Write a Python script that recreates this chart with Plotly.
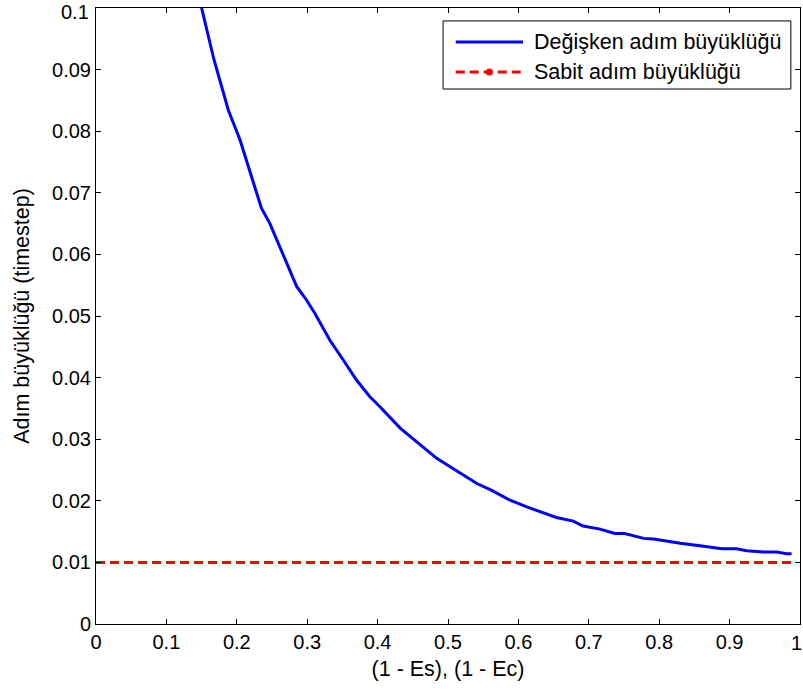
import plotly.graph_objects as go

# Variable step size vs. (1 - Es), (1 - Ec)
x_var = [0.150, 0.1676, 0.188, 0.2045, 0.235, 0.247, 0.285, 0.299, 0.311, 0.323, 0.332,
         0.351, 0.370, 0.389, 0.403, 0.432, 0.4555, 0.484, 0.498, 0.522, 0.541,
         0.560, 0.588, 0.612, 0.631, 0.654, 0.678, 0.692, 0.716, 0.737, 0.751,
         0.778, 0.792, 0.811, 0.830, 0.858, 0.872, 0.889, 0.910, 0.924, 0.948,
         0.967, 0.981, 0.988]
y_var = [0.1000, 0.0916, 0.0834, 0.0786, 0.0675, 0.0650, 0.0548, 0.0526, 0.0504, 0.0480, 0.0461,
         0.0429, 0.0396, 0.0369, 0.0353, 0.0318, 0.0296, 0.0269, 0.0259, 0.0242, 0.0228,
         0.0218, 0.0201, 0.0190, 0.0182, 0.0173, 0.0167, 0.0159, 0.0154, 0.0147, 0.0147,
         0.0139, 0.0138, 0.0134, 0.0131, 0.0127, 0.0125, 0.0122, 0.0122, 0.0119, 0.0117,
         0.0117, 0.0114, 0.0114]

# Fixed step size
x_fix = [0.0, 0.988]
y_fix = [0.01, 0.01]

x_ticks = [0, 0.1, 0.2, 0.3, 0.4, 0.5, 0.6, 0.7, 0.8, 0.9, 1]
x_tick_text = ["0", "0.1", "0.2", "0.3", "0.4", "0.5", "0.6", "0.7", "0.8", "0.9", "1"]
y_ticks = [0, 0.01, 0.02, 0.03, 0.04, 0.05, 0.06, 0.07, 0.08, 0.09, 0.1]
y_tick_text = ["0", "0.01", "0.02", "0.03", "0.04", "0.05", "0.06", "0.07", "0.08", "0.09", "0.1"]

series_names = ["Değişken adım büyüklüğü", "Sabit adım büyüklüğü"]

FONT = "Liberation Sans, Arial, sans-serif"
BLUE = "#0000ff"
RED = "#ff0000"
DASH = "9px,5px"
TICK_SIZE = 20

fig = go.Figure()
fig.add_trace(go.Scatter(
    x=x_var, y=y_var, mode="lines", name=series_names[0],
    line=dict(color=BLUE, width=3), showlegend=False,
))
fig.add_trace(go.Scatter(
    x=x_fix, y=y_fix, mode="lines", name=series_names[1],
    line=dict(color=RED, width=3, dash=DASH), showlegend=False,
))

axis_common = dict(
    showline=True, linecolor="black", linewidth=1, mirror="ticks",
    ticks="inside", ticklen=5, tickcolor="black", tickwidth=1,
    showgrid=False, zeroline=False,
    tickfont=dict(family=FONT, size=TICK_SIZE, color="black"),
)

# The last label of each axis sits at the figure edge; it is drawn separately,
# nudged inward so it stays fully visible.
fig.update_xaxes(
    range=[0, 1], tickvals=x_ticks, ticktext=x_tick_text[:-1] + [""],
    title=dict(text="(1 - Es), (1 - Ec)", font=dict(family=FONT, size=21.5, color="black"), standoff=8),
    **axis_common,
)
fig.update_yaxes(
    range=[0, 0.1], tickvals=y_ticks, ticktext=y_tick_text[:-1] + [""],
    title=dict(text="Adım büyüklüğü (timestep)", font=dict(family=FONT, size=21.5, color="black"), standoff=16),
    **axis_common,
)

edge_labels = [
    dict(xref="x", yref="paper", x=x_ticks[-1], y=0, text=x_tick_text[-1], showarrow=False,
         xanchor="center", yanchor="top", xshift=-4, yshift=-6,
         font=dict(family=FONT, size=TICK_SIZE, color="black")),
    dict(xref="paper", yref="y", x=0, y=y_ticks[-1], text=y_tick_text[-1], showarrow=False,
         xanchor="right", yanchor="middle", xshift=-5, yshift=-4,
         font=dict(family=FONT, size=TICK_SIZE, color="black")),
]

# Boxed legend in the upper right of the axes (long line samples)
lx0, lx1, ly0, ly1 = 0.493, 0.987, 0.8685, 0.979
sx0, sx1, tx = 0.511, 0.6065, 0.6193
rows = [0.9448, 0.8961]
shapes = [
    dict(type="rect", xref="x domain", yref="y domain", x0=lx0, x1=lx1, y0=ly0, y1=ly1,
         line=dict(color="black", width=1), fillcolor="white", layer="above"),
    dict(type="line", xref="x domain", yref="y domain", x0=sx0, x1=sx1, y0=rows[0], y1=rows[0],
         line=dict(color=BLUE, width=3), layer="above"),
    dict(type="line", xref="x domain", yref="y domain", x0=sx0, x1=sx1, y0=rows[1], y1=rows[1],
         line=dict(color=RED, width=3, dash=DASH), layer="above"),
    # point marker at the centre of the dashed sample
    dict(type="circle", xref="x domain", yref="y domain",
         xsizemode="pixel", ysizemode="pixel",
         xanchor=(sx0 + sx1) / 2, yanchor=rows[1], x0=-3.5, x1=3.5, y0=-3.5, y1=3.5,
         line=dict(color=RED, width=0), fillcolor=RED, layer="above"),
]
annotations = [
    dict(xref="x domain", yref="y domain", x=tx, y=yy, text=name, showarrow=False,
         xanchor="left", yanchor="middle", font=dict(family=FONT, size=21.5, color="black"))
    for name, yy in zip(series_names, rows)
] + edge_labels

fig.update_layout(
    width=803, height=693,
    margin=dict(l=96, r=3, t=8, b=69, autoexpand=False),
    paper_bgcolor="white", plot_bgcolor="white",
    font=dict(family=FONT, color="black"),
    showlegend=False,
    shapes=shapes,
    annotations=annotations,
)

fig.write_html("out.html")
